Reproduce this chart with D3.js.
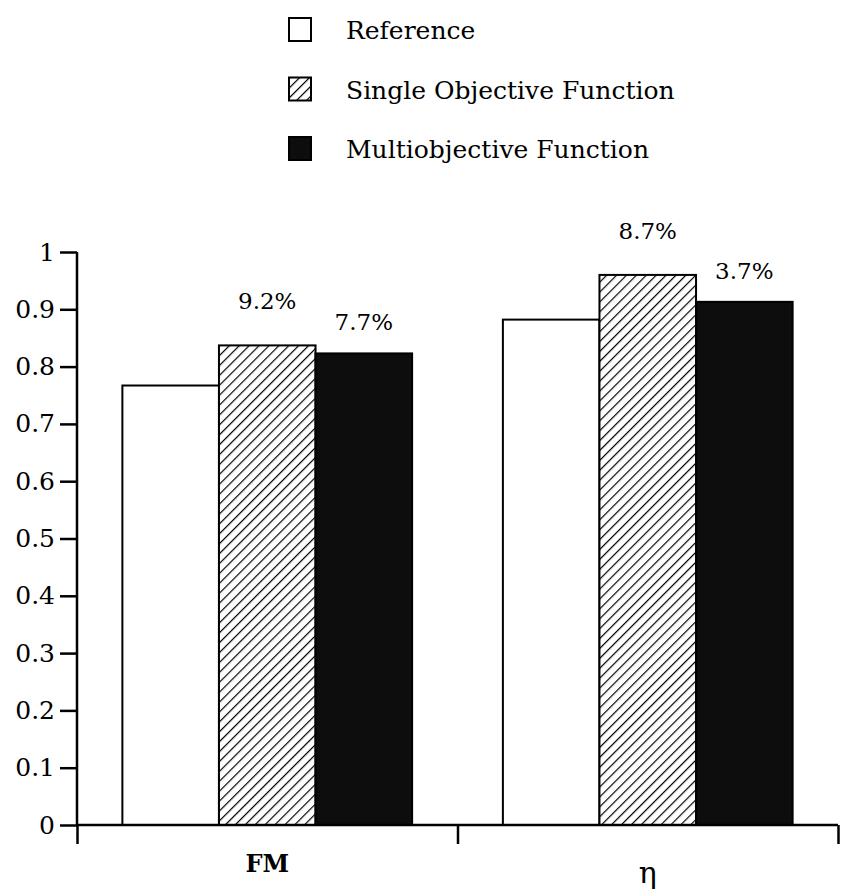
<!DOCTYPE html>
<html lang="en">
<head>
    <meta charset="UTF-8">
    <title>FM and efficiency comparison</title>
    <script src="https://d3js.org/d3.v7.min.js"></script>
    <style>
        body { margin: 0; background: #fff; }
        svg text { font-family: "DejaVu Serif", serif !important; fill: #000; }
        .pct { font-size: 23px; text-anchor: middle; }
        .legend-label { font-size: 25px; }
        .cat { text-anchor: middle; }
    </style>
</head>
<body>
    <svg width="847" height="893"></svg>
    <script>
        // data
        const categories = ["FM", "η"];
        const series = ["Reference", "Single Objective Function", "Multiobjective Function"];
        const reference = [0.767, 0.882];
        const single = [0.837, 0.960];
        const multi = [0.823, 0.913];
        const improvementSingle = ["9.2%", "8.7%"];
        const improvementMulti = ["7.7%", "3.7%"];
        const yTicks = [0, 0.1, 0.2, 0.3, 0.4, 0.5, 0.6, 0.7, 0.8, 0.9, 1];
        const yTickLabels = ["0", "0.1", "0.2", "0.3", "0.4", "0.5", "0.6", "0.7", "0.8", "0.9", "1"];

        const values = [reference, single, multi];
        const labels = [null, improvementSingle, improvementMulti];
        const labelGap = [0, 36, 23];

        const svg = d3.select("svg");
        const plotLeft = 77, plotRight = 838, plotTop = 252, plotBottom = 825;

        const x0 = d3.scaleBand().domain(categories).range([plotLeft, plotRight]).paddingInner(0).paddingOuter(0);
        const x1 = d3.scaleBand().domain(series).range([0, x0.bandwidth()]).paddingInner(0).paddingOuter(0.47);
        const y = d3.scaleLinear().domain([0, 1]).range([plotBottom, plotTop]);

        // hatch pattern for the single objective bars
        const defs = svg.append("defs");
        const pat = defs.append("pattern")
            .attr("id", "hatch")
            .attr("patternUnits", "userSpaceOnUse")
            .attr("width", 7).attr("height", 7)
            .attr("patternTransform", "rotate(45)");
        pat.append("rect").attr("width", 7).attr("height", 7).attr("fill", "#fff");
        pat.append("line").attr("x1", 0).attr("y1", 0).attr("x2", 0).attr("y2", 7)
            .attr("stroke", "#000").attr("stroke-width", 2.4);

        const fills = ["#fff", "url(#hatch)", "#0d0d0d"];

        const rows = [];
        categories.forEach((c, i) => {
            series.forEach((s, j) => {
                rows.push({ cat: c, ser: s, j: j, value: values[j][i], label: labels[j] ? labels[j][i] : null });
            });
        });

        svg.selectAll(".bar")
            .data(rows)
            .enter()
            .append("rect")
            .attr("class", "bar")
            .attr("x", d => x0(d.cat) + x1(d.ser))
            .attr("y", d => y(d.value))
            .attr("width", x1.bandwidth())
            .attr("height", d => y(0) - y(d.value))
            .attr("fill", d => fills[d.j])
            .attr("stroke", "#000")
            .attr("stroke-width", 2);

        // percentage labels
        svg.selectAll(".pct")
            .data(rows.filter(d => d.label))
            .enter()
            .append("text")
            .attr("class", "pct")
            .attr("x", d => x0(d.cat) + x1(d.ser) + x1.bandwidth() / 2)
            .attr("y", d => y(d.value) - labelGap[d.j])
            .text(d => d.label);

        // y axis
        const yAxis = svg.append("g")
            .attr("transform", `translate(${plotLeft},0)`)
            .call(d3.axisLeft(y).tickValues(yTicks).tickFormat((d, i) => yTickLabels[i]).tickSize(17).tickPadding(5));
        yAxis.attr("font-size", 25);
        yAxis.select(".domain").attr("stroke-width", 2.5).attr("d", `M0,${plotTop}V${plotBottom}`);
        yAxis.selectAll(".tick line").attr("stroke-width", 2.5);

        // x axis: ticks on the group boundaries
        const xEdge = d3.scaleLinear().domain([0, categories.length]).range([plotLeft, plotRight]);
        const xAxis = svg.append("g")
            .attr("transform", `translate(0,${plotBottom})`)
            .call(d3.axisBottom(xEdge).tickValues(d3.range(categories.length + 1)).tickFormat("").tickSize(19));
        xAxis.select(".domain").attr("stroke-width", 2.5).attr("d", `M${plotLeft},0H${plotRight}`);
        xAxis.selectAll(".tick line").attr("stroke-width", 2.5);

        svg.selectAll(".cat")
            .data(categories)
            .enter()
            .append("text")
            .attr("class", "cat")
            .attr("x", d => x0(d) + x0.bandwidth() / 2)
            .attr("y", (d, i) => i === 0 ? 872 : 883)
            .attr("font-weight", (d, i) => i === 0 ? "bold" : "normal")
            .attr("font-size", (d, i) => i === 0 ? 24 : 30)
            .text(d => d);

        // legend
        const legend = svg.append("g").attr("transform", "translate(289,18)");
        const item = legend.selectAll(".legend-item")
            .data(series)
            .enter()
            .append("g")
            .attr("transform", (d, i) => `translate(0,${i * 59.5})`);
        item.append("rect")
            .attr("width", 22).attr("height", 23)
            .attr("fill", (d, i) => fills[i])
            .attr("stroke", "#000")
            .attr("stroke-width", 2);
        item.append("text")
            .attr("class", "legend-label")
            .attr("x", 57)
            .attr("y", 21)
            .text(d => d);
    </script>
</body>
</html>
